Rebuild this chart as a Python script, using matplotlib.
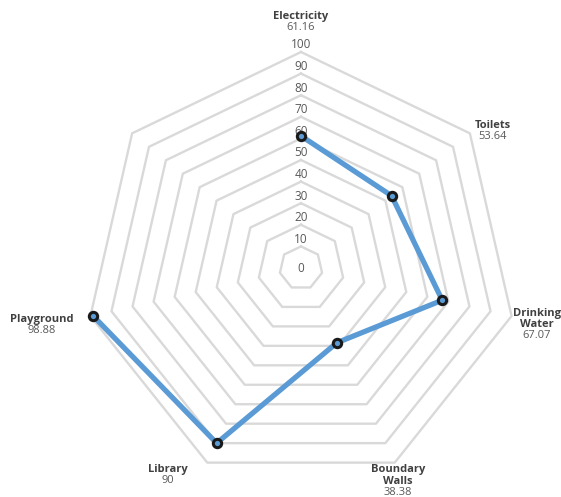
import numpy as np
import matplotlib
matplotlib.use("Agg")
import matplotlib.pyplot as plt

plt.rcParams['font.family'] = ['Open Sans', 'DejaVu Sans']

# данные
categories = ['Electricity', 'Toilets', 'Drinking\nWater', 'Boundary\nWalls', 'Library', 'Playground', '']
values = [61.16, 53.64, 67.07, 38.38, 90, 98.88]
value_labels = ['61.16', '53.64', '67.07', '38.38', '90', '98.88', '']
rings = [10, 20, 30, 40, 50, 60, 70, 80, 90, 100]
tick_labels = ['0', '10', '20', '30', '40', '50', '60', '70', '80', '90', '100']

# сдвиги подписей (пиксели) от вершины внешнего кольца
label_offsets = [(0, 29), (23, 1.5), (25, -15), (3, -25), (-39, -13), (-49, -9.5), (0, 0)]

n = len(categories)
theta = np.arange(n) * 2 * np.pi / n

fig = plt.figure(figsize=(5.61, 4.97), dpi=100)
ax = fig.add_axes([85 / 561, 1 - 484 / 497, 432 / 561, 432 / 497], projection='polar')
ax.set_theta_offset(np.pi / 2)
ax.set_theta_direction(-1)
ax.set_ylim(0, 100)
ax.grid(False)
ax.set_xticks([])
ax.set_yticks([])
ax.spines['polar'].set_visible(False)
ax.patch.set_alpha(0)

# сетка-семиугольники
closed = np.append(theta, theta[0])
for r in rings:
    ax.plot(closed, [r] * (n + 1), color='#d9d9d9', lw=1.7, zorder=1, clip_on=False)

# подписи радиальной шкалы
for i, t in enumerate(tick_labels):
    r = i * 10
    if r == 0:
        ax.text(0, 0, t, ha='center', va='center', fontsize=8.5, color='#595959', zorder=2)
    else:
        ax.annotate(t, xy=(0, r), xytext=(0, 7), textcoords='offset pixels',
                    ha='center', va='center', fontsize=8.5, color='#595959', zorder=2,
                    annotation_clip=False)

# линия данных
ax.plot(theta[:len(values)], values, color='#5b9bd5', lw=3.8, zorder=3,
        marker='o', ms=6, mfc='#5b9bd5', mec='#1a1a1a', mew=2.2, clip_on=False)

# подписи категорий
for i in range(n):
    if categories[i] == '':
        continue
    dx, dy = label_offsets[i]
    ax.annotate(categories[i], xy=(theta[i], 100), xytext=(dx, dy + 1), textcoords='offset pixels',
                ha='center', va='bottom', fontsize=8, fontweight='bold', color='#404040',
                linespacing=1.05, annotation_clip=False)
    ax.annotate(value_labels[i], xy=(theta[i], 100), xytext=(dx, dy + 1), textcoords='offset pixels',
                ha='center', va='top', fontsize=8, color='#595959', annotation_clip=False)

fig.savefig('out.png', dpi=100)
